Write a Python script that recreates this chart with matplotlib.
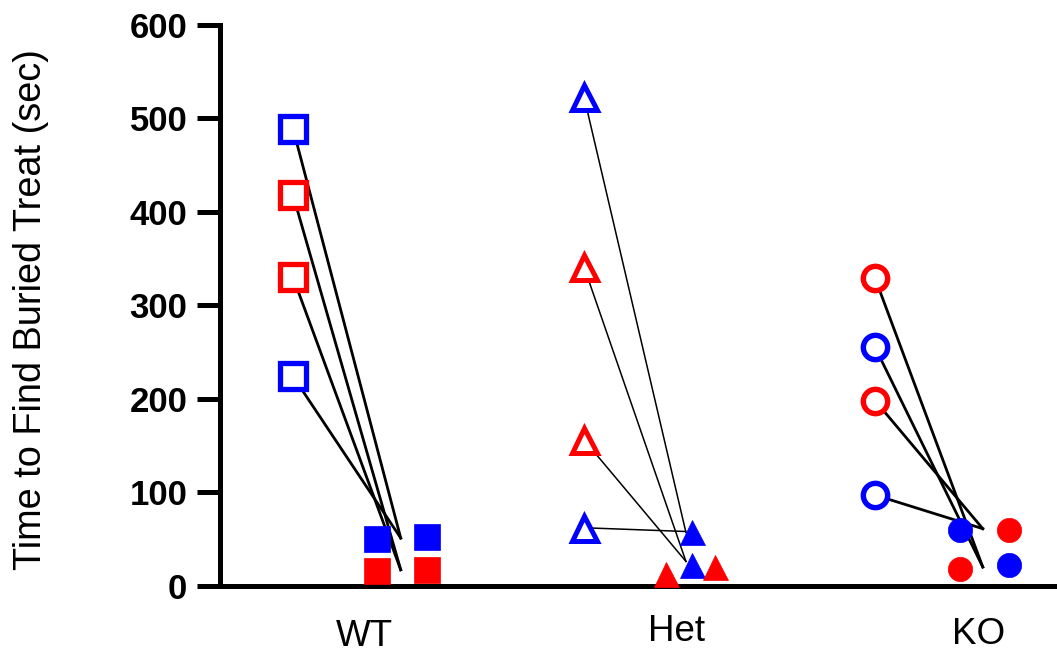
import matplotlib
matplotlib.use("Agg")
import matplotlib.pyplot as plt

plt.rcParams['font.family'] = ['Liberation Sans', 'DejaVu Sans']

# values (seconds); 'm' = blue, 'f' = red
groups = ['WT', 'Het', 'KO']

wt_before = [489, 418, 330, 224]
wt_before_sex = ['m', 'f', 'f', 'm']
wt_after = [49.5, 15.4, 52.2, 17.2]
wt_after_sex = ['m', 'f', 'm', 'f']
wt_link_end = [51, 17, 17, 51]

het_before = [523, 341, 156, 62]
het_before_sex = ['m', 'f', 'f', 'm']
het_after = [57.5, 22, 12, 20]
het_after_sex = ['m', 'm', 'f', 'f']
het_link_end = [57, 26, 26, 58]

ko_before = [329, 255, 198, 97]
ko_before_sex = ['f', 'm', 'f', 'm']
ko_after = [60, 18, 60, 22]
ko_after_sex = ['m', 'f', 'f', 'm']
ko_link_end = [20, 20, 61, 61]

# layout: horizontal offsets of the points inside each group
after_dx = [[0.29, 0.29, 0.46, 0.46],
            [0.37, 0.37, 0.28, 0.45],
            [0.29, 0.29, 0.46, 0.46]]
link_dx = [0.37, 0.35, 0.37]
link_lw = [2.0, 1.1, 2.0]
label_pos = [0.244, 1.316, 2.357]
label_lift = [0, 5, 2]   # px
markers = ['s', '^', 'o']
ms_open = [19, 18, 17.5]
ms_fill = [18.5, 18, 17.5]
mew_open = [3.8, 3.6, 3.9]
colors = {'m': '#0000FF', 'f': '#FF0000'}

data = [
    (wt_before, wt_before_sex, wt_after, wt_after_sex, wt_link_end),
    (het_before, het_before_sex, het_after, het_after_sex, het_link_end),
    (ko_before, ko_before_sex, ko_after, ko_after_sex, ko_link_end),
]

fig = plt.figure(figsize=(10.57, 6.56), dpi=100)
ax_h = 560.7
ax = fig.add_axes([220 / 1057, (656 - 585.7) / 656, 1 - 220 / 1057, ax_h / 656])

for i, (before, bsex, after, asex, ends) in enumerate(data):
    mk = markers[i]
    for y0, y1 in zip(before, ends):
        ax.plot([i, i + link_dx[i]], [y0, y1], color='black', lw=link_lw[i], zorder=2)
    for y0, s in zip(before, bsex):
        ax.plot(i, y0, marker=mk, ms=ms_open[i], mfc='white', mec=colors[s], mew=mew_open[i],
                ls='none', zorder=3, clip_on=False)
    for dx, y1, s in zip(after_dx[i], after, asex):
        ax.plot(i + dx, y1, marker=mk, ms=ms_fill[i], mfc=colors[s], mec=colors[s], mew=0.5,
                ls='none', zorder=3, clip_on=False)

ax.set_xlim(-0.251, 2.625)
ax.set_ylim(0, 600)
ax.set_yticks([0, 100, 200, 300, 400, 500, 600])
for lab in ax.get_yticklabels():
    lab.set_fontweight('bold')
    lab.set_fontsize(25)

# group names as plain text under the axis
ax.set_xticks([])
for x, name, lift in zip(label_pos, groups, label_lift):
    ax.text(x, -(33 - lift) / ax_h, name, fontsize=26.5, ha='center', va='top',
            transform=ax.get_xaxis_transform())

ax.spines['top'].set_visible(False)
ax.spines['right'].set_visible(False)
ax.spines['left'].set_linewidth(3.6)
ax.spines['bottom'].set_linewidth(3.6)
ax.tick_params(axis='y', length=16.5, width=3.6, pad=7)

ax.set_ylabel('Time to Find Buried Treat (sec)', fontsize=27.3)
ax.yaxis.set_label_coords(-0.2045, 0.493)

fig.savefig('out.png', dpi=100)
